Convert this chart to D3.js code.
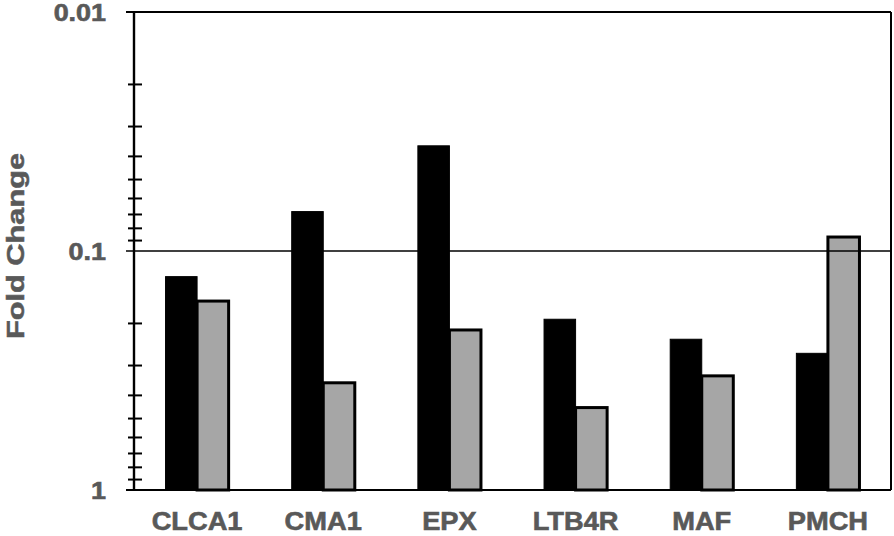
<!DOCTYPE html>
<html>
<head>
<meta charset="utf-8">
<script src="https://cdn.jsdelivr.net/npm/d3@7"></script>
<style>
  html, body { margin: 0; padding: 0; background: #fff; }
  svg { display: block; font-family: "Liberation Sans", Arial, sans-serif; }
</style>
</head>
<body>
<svg id="chart" width="894" height="536"></svg>
<script>
// --- DATA ---
const genes   = ["CLCA1", "CMA1", "EPX", "LTB4R", "MAF", "PMCH"];
const series  = ["Series 1", "Series 2"];
const black   = [0.128, 0.0684, 0.0363, 0.193, 0.234, 0.268];
const gray    = [0.162, 0.356, 0.214, 0.452, 0.333, 0.0874];
const majorTicks = [0.01, 0.1, 1];
const minorTicks = [0.02, 0.03, 0.04, 0.05, 0.06, 0.07, 0.08, 0.09,
                    0.2, 0.3, 0.4, 0.5, 0.6, 0.7, 0.8, 0.9];

const TEXT = "#595959";
const svg  = d3.select("#chart");
const mL = 134, mR = 891, mT = 12, mB = 490;

const x = d3.scaleBand().domain(genes).range([mL, mR])
  .paddingInner(0.5).paddingOuter(0.25);
const xs = d3.scaleBand().domain(series).range([0, x.bandwidth()]);
const y = d3.scaleLog().domain([1, 0.01]).range([mB, mT]);

const rows = genes.map((g, i) => ({ gene: g, vals: [black[i], gray[i]] }));

// bars
const grp = svg.append("g").selectAll("g").data(rows).join("g")
  .attr("transform", d => `translate(${x(d.gene)},0)`);

grp.append("rect")
  .attr("x", xs(series[0])).attr("width", xs.bandwidth())
  .attr("y", d => y(d.vals[0])).attr("height", d => y(1) - y(d.vals[0]))
  .attr("fill", "#000").attr("stroke", "#000").attr("stroke-width", 1);

grp.append("rect")
  .attr("x", xs(series[1])).attr("width", xs.bandwidth())
  .attr("y", d => y(d.vals[1])).attr("height", d => y(1) - y(d.vals[1]))
  .attr("fill", "#a6a6a6").attr("stroke", "#000").attr("stroke-width", 3);

// frame / gridlines at decades
majorTicks.forEach(v => {
  svg.append("line")
    .attr("x1", mL - 8).attr("x2", mR)
    .attr("y1", y(v)).attr("y2", y(v))
    .attr("stroke", "#000").attr("stroke-width", v === 0.1 ? 1.6 : 2.2);
});
svg.append("line")
  .attr("x1", mR).attr("x2", mR).attr("y1", mT).attr("y2", mB)
  .attr("stroke", "#000").attr("stroke-width", 2);

// minor ticks (crossing the axis)
const minorAxis = svg.append("g").attr("transform", `translate(${mL},0)`)
  .call(d3.axisLeft(y).tickValues(minorTicks).tickFormat("").tickSizeOuter(0));
minorAxis.select(".domain").remove();
minorAxis.selectAll(".tick line")
  .attr("x1", -6).attr("x2", 8)
  .attr("stroke", "#000").attr("stroke-width", 2);

// main axis line
svg.append("line")
  .attr("x1", mL).attr("x2", mL).attr("y1", mT - 1).attr("y2", mB + 1)
  .attr("stroke", "#000").attr("stroke-width", 2.4);

// major labels
const majorAxis = svg.append("g").attr("transform", `translate(${mL},0)`)
  .call(d3.axisLeft(y).tickValues(majorTicks)
    .tickFormat(d => d === 1 ? "1" : String(d))
    .tickSize(0).tickPadding(28));
majorAxis.select(".domain").remove();
majorAxis.selectAll("text")
  .attr("font-family", "Liberation Sans, Arial, sans-serif")
  .attr("font-size", 23).attr("font-weight", "bold")
  .attr("fill", TEXT).attr("stroke", TEXT).attr("stroke-width", 0.6)
  .attr("dy", "0.36em")
  .each(function () {
    const w = this.getComputedTextLength();
    d3.select(this).attr("textLength", w * 1.17).attr("lengthAdjust", "spacingAndGlyphs");
  });

// category labels
svg.append("g").selectAll("text").data(genes).join("text")
  .attr("x", d => x(d) + x.bandwidth() / 2)
  .attr("y", 530)
  .attr("text-anchor", "middle")
  .attr("font-size", 25).attr("font-weight", "bold")
  .attr("fill", TEXT).attr("stroke", TEXT).attr("stroke-width", 0.6)
  .text(d => d)
  .each(function () {
    const w = this.getComputedTextLength();
    d3.select(this).attr("textLength", w * 1.09).attr("lengthAdjust", "spacingAndGlyphs");
  });

// y label
svg.append("text")
  .attr("transform", "translate(24,246) rotate(-90)")
  .attr("text-anchor", "middle")
  .attr("font-size", 23).attr("font-weight", "bold")
  .attr("fill", TEXT).attr("stroke", TEXT).attr("stroke-width", 0.5)
  .attr("textLength", 186).attr("lengthAdjust", "spacingAndGlyphs")
  .text("Fold Change");
</script>
</body>
</html>
